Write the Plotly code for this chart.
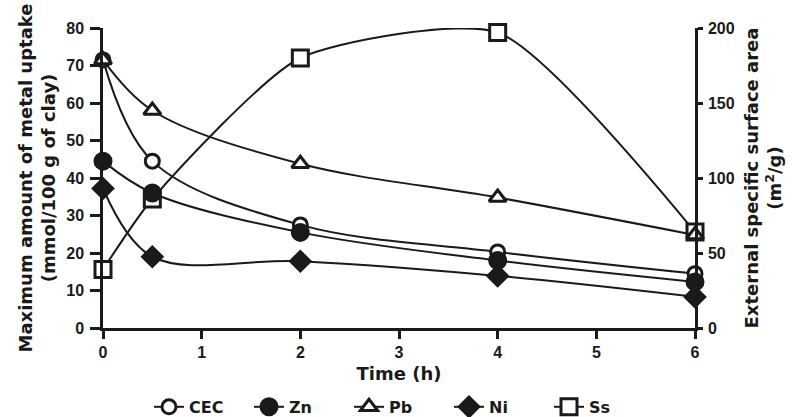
import plotly.graph_objects as go

time_h = [0, 0.5, 2, 4, 6]
cec = [71.5, 44.5, 27.5, 20.3, 14.5]
zn = [44.5, 36.0, 25.5, 18.0, 12.3]
pb = [71.5, 58.0, 43.8, 34.8, 24.8]
ni = [37.2, 19.0, 17.8, 13.9, 8.3]
ss = [39.0, 86.0, 180.0, 197.0, 64.0]

x_ticks = [0, 1, 2, 3, 4, 5, 6]
left_ticks = [0, 10, 20, 30, 40, 50, 60, 70, 80]
right_ticks = [0, 50, 100, 150, 200]

FONT = "Liberation Sans, Arial, sans-serif"
TFONT = "DejaVu Sans, Liberation Sans, sans-serif"
BLACK = "#1a1a1a"

fig = go.Figure()

# Ss on base (right) axis so metals draw over it
fig.add_trace(go.Scatter(
    x=time_h, y=ss, name="Ss", mode="lines+markers", yaxis="y", xaxis="x",
    line=dict(color=BLACK, width=2, shape="spline", smoothing=0.62),
    marker=dict(symbol="square", size=16, color="white", line=dict(color=BLACK, width=3)),
    cliponaxis=False, legendrank=5,
))

metal_specs = [
    ("CEC", cec, "circle", "white", 14, 1),
    ("Zn", zn, "circle", BLACK, 16, 2),
    ("Pb", pb, "triangle-up", "white", 15, 3),
    ("Ni", ni, "diamond", BLACK, 15, 4),
]
for name, vals, sym, fill, size, rank in metal_specs:
    fig.add_trace(go.Scatter(
        x=time_h, y=vals, name=name, mode="lines+markers", yaxis="y2", xaxis="x",
        line=dict(color=BLACK, width=2, shape="spline", smoothing=1.0),
        marker=dict(symbol=sym, size=size, color=fill, line=dict(color=BLACK, width=3)),
        cliponaxis=False, legendrank=rank,
    ))

tickfont = dict(family=FONT, size=16, color=BLACK, weight="bold")
titlefont = dict(family=TFONT, size=18, color=BLACK, weight="bold")

fig.update_layout(
    width=792, height=417,
    margin=dict(l=103, r=97, t=28, b=89, pad=0, autoexpand=False),
    paper_bgcolor="white", plot_bgcolor="white",
    font=dict(family=FONT, color=BLACK),
    xaxis=dict(
        range=[0, 6], tickvals=x_ticks, ticks="outside", ticklen=8, tickwidth=2.5,
        tickcolor=BLACK, showline=True, linecolor=BLACK, linewidth=2.5,
        showgrid=False, zeroline=False, tickfont=tickfont,
        title=dict(text="Time (h)", font=titlefont, standoff=8),
    ),
    yaxis=dict(
        range=[0, 200], tickvals=right_ticks, side="right", anchor="x",
        ticks="outside", ticklen=5, tickwidth=2.5, tickcolor=BLACK,
        showline=True, linecolor=BLACK, linewidth=2.5, showgrid=False, zeroline=False,
        tickfont=tickfont, ticklabelstandoff=2,
        title=dict(text="External specific surface area<br>(m<sup>2</sup>/g)", font=titlefont, standoff=12),
    ),
    yaxis3=dict(
        range=[0, 200], tickvals=right_ticks, side="right", anchor="x", overlaying="y",
        ticks="inside", ticklen=7, tickwidth=2.5, tickcolor=BLACK,
        showline=False, showgrid=False, zeroline=False, showticklabels=False,
    ),
    yaxis2=dict(
        range=[0, 80], tickvals=left_ticks, side="left", anchor="x", overlaying="y",
        ticks="outside", ticklen=10, tickwidth=2.5, tickcolor=BLACK,
        showline=True, linecolor=BLACK, linewidth=2.5, showgrid=False, zeroline=False,
        tickfont=tickfont, ticklabelstandoff=3,
        title=dict(text="Maximum amount of metal uptake<br>(mmol/100 g of clay)", font=titlefont, standoff=6),
    ),
    legend=dict(
        orientation="h", x=0.5, xanchor="center", y=-0.263, yanchor="middle",
        font=dict(family=TFONT, size=16, color=BLACK, weight="bold"),
        entrywidth=55, itemwidth=30, traceorder="normal",
    ),
    showlegend=True,
)

fig.write_html("out.html")
